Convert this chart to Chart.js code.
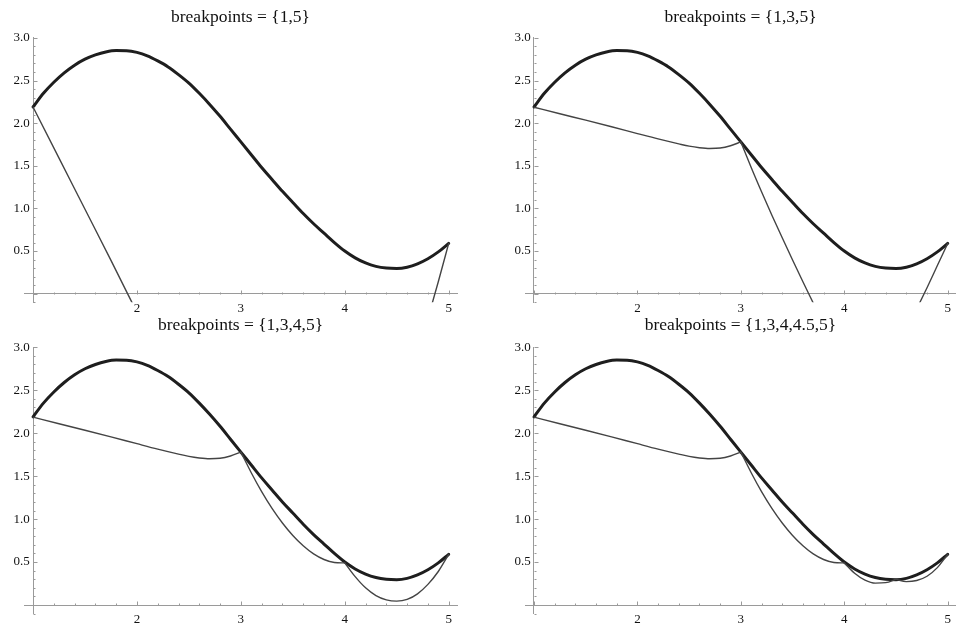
<!DOCTYPE html>
<html>
<head>
<meta charset="utf-8">
<script src="https://cdn.jsdelivr.net/npm/chart.js@4"></script>
<style>
html,body{margin:0;padding:0;background:#fff;width:958px;height:626px;overflow:hidden}
canvas{position:absolute}
</style>
</head>
<body>
<canvas id="c0" width="479" height="313" style="left:0;top:0"></canvas>
<canvas id="c1" width="479" height="313" style="left:479px;top:0"></canvas>
<canvas id="c2" width="479" height="313" style="left:0;top:313px"></canvas>
<canvas id="c3" width="479" height="313" style="left:479px;top:313px"></canvas>
<script>
// ---------- data ----------
const panelTitles = ["breakpoints = {1,5}", "breakpoints = {1,3,5}", "breakpoints = {1,3,4,5}", "breakpoints = {1,3,4,4.5,5}"];

const xTickValues = [2, 3, 4, 5];
const xTickLabels = ["2", "3", "4", "5"];
const yTickValues = [0.5, 1.0, 1.5, 2.0, 2.5, 3.0];
const yTickLabels = ["0.5", "1.0", "1.5", "2.0", "2.5", "3.0"];

// the function (thick curve)
const fX = [1.0,1.1,1.2,1.3,1.4,1.5,1.6,1.7,1.8,1.9,2.0,2.1,2.2,2.3,2.4,2.5,2.6,2.7,2.8,2.9,3.0,
            3.1,3.2,3.3,3.4,3.5,3.6,3.7,3.8,3.9,4.0,4.1,4.2,4.3,4.4,4.5,4.6,4.7,4.8,4.9,5.0];
const fY = [2.19,2.35,2.48,2.59,2.68,2.75,2.80,2.835,2.852,2.85,2.83,2.79,2.73,2.66,2.57,2.47,2.35,2.22,2.08,1.93,1.78,
            1.63,1.48,1.34,1.20,1.07,0.94,0.82,0.71,0.60,0.50,0.42,0.36,0.32,0.30,0.295,0.31,0.35,0.41,0.49,0.59];

// breakpoints {1,5}: one cubic, leaves the plot at the bottom
const p1LeftX  = [1.0, 1.25, 1.5, 1.75, 2.0];
const p1LeftY  = [2.19, 1.59, 0.99, 0.39, -0.22];
const p1RightX = [4.8, 4.9, 5.0];
const p1RightY = [-0.29, 0.14, 0.59];

// piece on [1,3] shared by breakpoints {1,3,...}
const s13X = [1.0, 1.25, 1.5, 1.75, 2.0, 2.2, 2.4, 2.5, 2.6, 2.7, 2.8, 2.9, 3.0];
const s13Y = [2.187, 2.11, 2.035, 1.958, 1.878, 1.815, 1.757, 1.73, 1.712, 1.703, 1.708, 1.735, 1.78];

// breakpoints {1,3,5}: piece on [3,5]
const p2LeftX  = [3.0, 3.1, 3.2, 3.3, 3.4, 3.5, 3.6, 3.7, 3.8];
const p2LeftY  = [1.78, 1.48, 1.195, 0.92, 0.655, 0.395, 0.14, -0.11, -0.36];
const p2RightX = [4.6, 4.7, 4.8, 4.9, 5.0];
const p2RightY = [-0.42, -0.18, 0.07, 0.33, 0.59];

// piece on [3,4] shared by breakpoints {1,3,4,...}
const s34X = [3.0, 3.1, 3.2, 3.3, 3.4, 3.5, 3.6, 3.7, 3.8, 3.9, 4.0];
const s34Y = [1.78, 1.54, 1.32, 1.125, 0.955, 0.81, 0.69, 0.595, 0.53, 0.495, 0.49];

// breakpoints {1,3,4,5}: piece on [4,5]
const p3X = [4.0, 4.1, 4.2, 4.3, 4.4, 4.5, 4.6, 4.7, 4.8, 4.9, 5.0];
const p3Y = [0.49, 0.33, 0.20, 0.11, 0.06, 0.045, 0.065, 0.13, 0.24, 0.39, 0.59];

// breakpoints {1,3,4,4.5,5}: pieces on [4,4.5] and [4.5,5]
const p4aX = [4.0, 4.1, 4.2, 4.3, 4.4, 4.5];
const p4aY = [0.49, 0.37, 0.29, 0.255, 0.26, 0.30];
const p4bX = [4.5, 4.6, 4.7, 4.8, 4.9, 5.0];
const p4bY = [0.30, 0.272, 0.285, 0.335, 0.435, 0.59];

// ---------- helpers ----------
const pts = (xs, ys) => xs.map((x, i) => ({x: x, y: ys[i]}));
const thick = () => ({data: pts(fX, fY), borderColor: '#1e1e1e', borderWidth: 3, order: 2});
const thin = (xs, ys) => ({data: pts(xs, ys), borderColor: '#444', borderWidth: 1.4, order: 1});

const panelPieces = [
  [thin(p1LeftX, p1LeftY), thin(p1RightX, p1RightY)],
  [thin(s13X, s13Y), thin(p2LeftX, p2LeftY), thin(p2RightX, p2RightY)],
  [thin(s13X, s13Y), thin(s34X, s34Y), thin(p3X, p3Y)],
  [thin(s13X, s13Y), thin(s34X, s34Y), thin(p4aX, p4aY), thin(p4bX, p4bY)]
];

const AXIS = '#9a9a9a';
const axisTicks = {
  id: 'axisTicks',
  beforeDatasetsDraw(chart) {
    const {ctx, scales: {x, y}} = chart;
    const x0 = x.getPixelForValue(1), y0 = y.getPixelForValue(0);
    ctx.save();
    ctx.strokeStyle = AXIS;
    ctx.lineWidth = 1;
    ctx.beginPath();
    for (let i = 0; i <= 20; i++) {
      const px = Math.round(x.getPixelForValue(1 + i * 0.2)) + 0.5;
      const len = (i % 5 === 0) ? 4 : 2;
      ctx.moveTo(px, Math.round(y0) + 0.5);
      ctx.lineTo(px, Math.round(y0) + 0.5 - len);
    }
    for (let i = -1; i <= 30; i++) {
      const py = Math.round(y.getPixelForValue(i * 0.1)) + 0.5;
      const len = (i % 5 === 0) ? 4 : 2;
      ctx.moveTo(Math.round(x0) + 0.5, py);
      ctx.lineTo(Math.round(x0) + 0.5 + len, py);
    }
    ctx.stroke();
    ctx.restore();
  }
};

const layouts = [
  {padding: {left: 24, right: 22, top: 7, bottom: 8.7}, titleBottom: 9.9},
  {padding: {left: 46, right: 0, top: 7, bottom: 8.7}, titleBottom: 9.9},
  {padding: {left: 24, right: 22, top: 2.3, bottom: 12.4}, titleBottom: 11.0},
  {padding: {left: 46, right: 0, top: 2.3, bottom: 12.4}, titleBottom: 11.0}
];

const FONT = "'Liberation Serif', 'Times New Roman', serif";

for (let k = 0; k < 4; k++) {
  new Chart(document.getElementById('c' + k), {
    type: 'line',
    data: {datasets: [thick()].concat(panelPieces[k])},
    plugins: [axisTicks],
    options: {
      responsive: false,
      animation: false,
      devicePixelRatio: 1,
      layout: {padding: layouts[k].padding},
      elements: {
        point: {radius: 0, hoverRadius: 0},
        line: {cubicInterpolationMode: 'monotone', fill: false, borderCapStyle: 'round'}
      },
      plugins: {
        legend: {display: false},
        tooltip: {enabled: false},
        title: {
          display: true,
          text: panelTitles[k],
          fullSize: false,
          color: '#111',
          font: {family: FONT, size: 17.5, weight: 'normal'},
          padding: {top: 0, bottom: layouts[k].titleBottom}
        }
      },
      scales: {
        x: {
          type: 'linear',
          min: 0.913, max: 5.08,
          position: {y: 0},
          grid: {display: false, drawTicks: false},
          border: {display: true, color: AXIS, width: 1},
          afterBuildTicks: s => { s.ticks = xTickValues.map(v => ({value: v})); },
          ticks: {
            autoSkip: false, maxRotation: 0, padding: 7, color: '#111',
            font: {family: FONT, size: 13},
            callback: v => xTickLabels[xTickValues.indexOf(v)]
          }
        },
        y: {
          type: 'linear',
          min: -0.1, max: 3.0,
          position: {x: 1},
          grid: {display: false, drawTicks: false},
          border: {display: true, color: AXIS, width: 1},
          afterBuildTicks: s => { s.ticks = yTickValues.map(v => ({value: v})); },
          ticks: {
            autoSkip: false, padding: 3, color: '#111',
            font: {family: FONT, size: 13},
            callback: v => yTickLabels[yTickValues.indexOf(v)] + ' '
          }
        }
      }
    }
  });
}
</script>
</body>
</html>
